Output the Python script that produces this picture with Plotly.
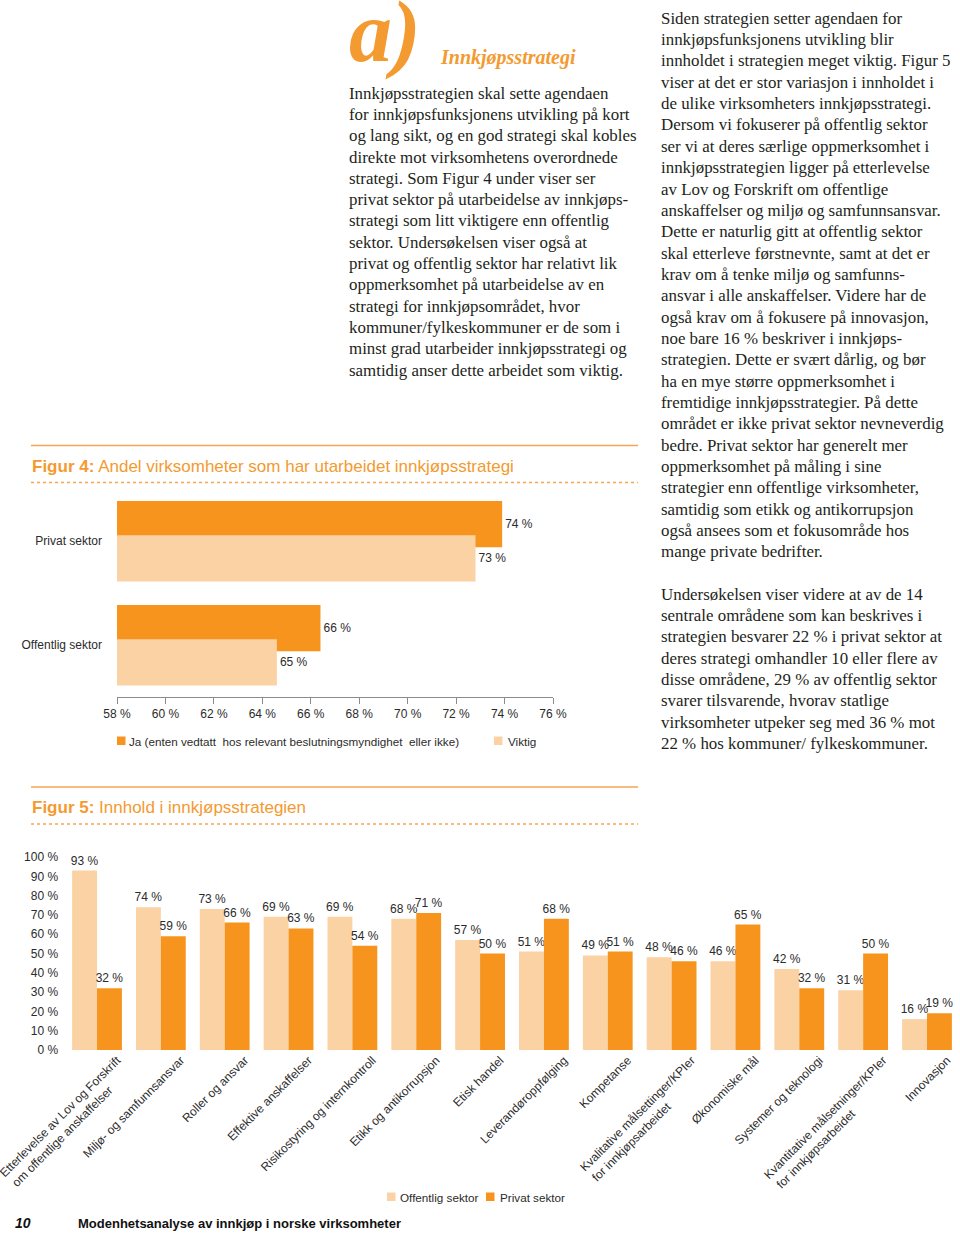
import plotly.graph_objects as go

W, H = 960, 1233


def fx(x):
    return x / W


def fy(y):
    return 1 - y / H


ORANGE = "#F7941E"
LIGHT = "#FBD2A4"
ACCENT = "#F39A30"
BODY = "#231F20"
CHART = "#2B2B2B"
SERIF = "Liberation Serif"
SANS = "Liberation Sans"
NB = "\u00a0"

# ---------------- Figure 4 data ----------------
fig4_sectors = ["Offentlig sektor", "Privat sektor"]
fig4_ja = [66.4, 73.9]
fig4_viktig = [64.6, 72.8]
fig4_tickvals = [58, 60, 62, 64, 66, 68, 70, 72, 74, 76]
fig4_ticktext = ["58 %", "60 %", "62 %", "64 %", "66 %", "68 %", "70 %", "72 %", "74 %", "76 %"]
fig4_legend = ["Ja (enten vedtatt  hos relevant beslutningsmyndighet  eller ikke)", "Viktig"]

# ---------------- Figure 5 data ----------------
fig5_categories = [
    "Etterlevelse av Lov og Forskrift om offentlige anskaffelser",
    "Miljø- og samfunnsansvar",
    "Roller og ansvar",
    "Effektive anskaffelser",
    "Risikostyring og internkontroll",
    "Etikk og antikorrupsjon",
    "Etisk handel",
    "Leverandøroppfølging",
    "Kompetanse",
    "Kvalitative målsettinger/KPIer for innkjøpsarbeidet",
    "Økonomiske mål",
    "Systemer og teknologi",
    "Kvantitative målsetninger/KPIer for innkjøpsarbeidet",
    "Innovasjon",
]
# second lines are padded with no-break spaces so both lines start together (left-aligned, as in the source)
fig5_ticklabels = [
    "Etterlevelse av Lov og Forskrift<br>om offentlige anskaffelser" + NB * 8,
    "Miljø- og samfunnsansvar",
    "Roller og ansvar",
    "Effektive anskaffelser",
    "Risikostyring og internkontroll",
    "Etikk og antikorrupsjon",
    "Etisk handel",
    "Leverandøroppfølging",
    "Kompetanse",
    "Kvalitative målsettinger/KPIer<br>for innkjøpsarbeidet" + NB * 15,
    "Økonomiske mål",
    "Systemer og teknologi",
    "Kvantitative målsetninger/KPIer<br>for innkjøpsarbeidet" + NB * 18,
    "Innovasjon",
]
fig5_offentlig = [93, 74, 73, 69, 69, 68, 57, 51, 49, 48, 46, 42, 31, 16]
fig5_privat = [32, 59, 66, 63, 54, 71, 50, 68, 51, 46, 65, 32, 50, 19]
fig5_ytickvals = [0, 10, 20, 30, 40, 50, 60, 70, 80, 90, 100]
fig5_yticktext = ["0 %", "10 %", "20 %", "30 %", "40 %", "50 %", "60 %", "70 %", "80 %", "90 %", "100 %"]
fig5_legend = ["Offentlig sektor", "Privat sektor"]

# ---------------- Page text ----------------
header_mark = "a)"
header_title = "Innkjøpsstrategi"
fig4_title = "<b>Figur 4:</b> Andel virksomheter som har utarbeidet innkjøpsstrategi"
fig5_title = "<b>Figur 5:</b> Innhold i innkjøpsstrategien"
footer_page = "10"
footer_title = "Modenhetsanalyse av innkjøp i norske virksomheter"

middle_lines = [
    "Innkjøpsstrategien skal sette agendaen",
    "for innkjøpsfunksjonens utvikling på kort",
    "og lang sikt, og en god strategi skal kobles",
    "direkte mot virksomhetens overordnede",
    "strategi. Som Figur 4 under viser ser",
    "privat sektor på utarbeidelse av innkjøps-",
    "strategi som litt viktigere enn offentlig",
    "sektor. Undersøkelsen viser også at",
    "privat og offentlig sektor har relativt lik",
    "oppmerksomhet på utarbeidelse av en",
    "strategi for innkjøpsområdet, hvor",
    "kommuner/fylkeskommuner er de som i",
    "minst grad utarbeider innkjøpsstrategi og",
    "samtidig anser dette arbeidet som viktig.",
]

right_lines_1 = [
    "Siden strategien setter agendaen for",
    "innkjøpsfunksjonens utvikling blir",
    "innholdet i strategien meget viktig. Figur 5",
    "viser at det er stor variasjon i innholdet i",
    "de ulike virksomheters innkjøpsstrategi.",
    "Dersom vi fokuserer på offentlig sektor",
    "ser vi at deres særlige oppmerksomhet i",
    "innkjøpsstrategien ligger på etterlevelse",
    "av Lov og Forskrift om offentlige",
    "anskaffelser og miljø og samfunnsansvar.",
    "Dette er naturlig gitt at offentlig sektor",
    "skal etterleve førstnevnte, samt at det er",
    "krav om å tenke miljø og samfunns-",
    "ansvar i alle anskaffelser. Videre har de",
    "også krav om å fokusere på innovasjon,",
    "noe bare 16 % beskriver i innkjøps-",
    "strategien. Dette er svært dårlig, og bør",
    "ha en mye større oppmerksomhet i",
    "fremtidige innkjøpsstrategier. På dette",
    "området er ikke privat sektor nevneverdig",
    "bedre. Privat sektor har generelt mer",
    "oppmerksomhet på måling i sine",
    "strategier enn offentlige virksomheter,",
    "samtidig som etikk og antikorrupsjon",
    "også ansees som et fokusområde hos",
    "mange private bedrifter.",
]

right_lines_2 = [
    "Undersøkelsen viser videre at av de 14",
    "sentrale områdene som kan beskrives i",
    "strategien besvarer 22 % i privat sektor at",
    "deres strategi omhandler 10 eller flere av",
    "disse områdene, 29 % av offentlig sektor",
    "svarer tilsvarende, hvorav statlige",
    "virksomheter utpeker seg med 36 % mot",
    "22 % hos kommuner/ fylkeskommuner.",
]

fig = go.Figure()

# ---------------- Figure 4 bars ----------------
fig.add_trace(go.Bar(
    y=fig4_sectors, x=fig4_ja, orientation="h", name=fig4_legend[0],
    marker=dict(color=ORANGE, line=dict(width=0)),
    offset=-0.06, width=0.445,
    texttemplate="%{x:.0f} %", textposition="outside",
    textfont=dict(family=SANS, size=12, color=CHART),
    constraintext="none", xaxis="x", yaxis="y", showlegend=False,
))
fig.add_trace(go.Bar(
    y=fig4_sectors, x=fig4_viktig, orientation="h", name=fig4_legend[1],
    marker=dict(color=LIGHT, line=dict(width=0)),
    offset=-0.39, width=0.445,
    texttemplate="%{x:.0f} %", textposition="outside",
    textfont=dict(family=SANS, size=12, color=CHART),
    constraintext="none", xaxis="x", yaxis="y", showlegend=False,
))

# ---------------- Figure 5 bars ----------------
fig.add_trace(go.Bar(
    x=fig5_categories, y=fig5_offentlig, name=fig5_legend[0],
    marker=dict(color=LIGHT, line=dict(width=0)),
    offset=-0.39, width=0.39,
    texttemplate="%{y:.0f} %", textposition="outside",
    textfont=dict(family=SANS, size=12, color=CHART),
    constraintext="none", cliponaxis=False,
    xaxis="x2", yaxis="y2", showlegend=False,
))
fig.add_trace(go.Bar(
    x=fig5_categories, y=fig5_privat, name=fig5_legend[1],
    marker=dict(color=ORANGE, line=dict(width=0)),
    offset=0.0, width=0.39,
    texttemplate="%{y:.0f} %", textposition="outside",
    textfont=dict(family=SANS, size=12, color=CHART),
    constraintext="none", cliponaxis=False,
    xaxis="x2", yaxis="y2", showlegend=False,
))

annotations = []


def txt(x, y, s, size, color, family, weight="normal", style="normal", xanchor="left"):
    annotations.append(dict(
        x=fx(x), y=fy(y), xref="paper", yref="paper", xanchor=xanchor, yanchor="middle",
        text=s, showarrow=False, align="left",
        font=dict(size=size, color=color, family=family, weight=weight, style=style),
    ))


# header
txt(347, 32, header_mark, 86, ACCENT, SERIF, weight="bold", style="italic")
txt(438, 57, header_title, 20, ACCENT, SERIF, weight="bold", style="italic")

# body columns
BODY_SIZE = 16.9
for i, s in enumerate(middle_lines):
    txt(347, 93.2 + 21.3 * i, s, BODY_SIZE, BODY, SERIF)
for i, s in enumerate(right_lines_1):
    txt(659, 18.2 + 21.35 * i, s, BODY_SIZE, BODY, SERIF)
for i, s in enumerate(right_lines_2):
    txt(659, 594.2 + 21.35 * i, s, BODY_SIZE, BODY, SERIF)

# figure titles
txt(30, 466, fig4_title, 17, ACCENT, SANS)
txt(30, 807, fig5_title, 17, ACCENT, SANS)

# legends (text)
txt(127, 741, fig4_legend[0], 11.7, CHART, SANS)
txt(506, 741, fig4_legend[1], 11.7, CHART, SANS)
txt(398, 1197, fig5_legend[0], 11.7, CHART, SANS)
txt(498, 1197, fig5_legend[1], 11.7, CHART, SANS)

# footer
txt(13, 1223, footer_page, 14, "#111111", SANS, weight="bold", style="italic")
txt(76, 1223, footer_title, 13, "#111111", SANS, weight="bold")

shapes = []


def hline(x0, x1, y, dash="solid", width=1.5):
    shapes.append(dict(type="line", xref="paper", yref="paper",
                       x0=fx(x0), x1=fx(x1), y0=fy(y), y1=fy(y),
                       line=dict(color="#F5A553", width=width, dash=dash)))


def square(x0, y0, size, color):
    shapes.append(dict(type="rect", xref="paper", yref="paper",
                       x0=fx(x0), x1=fx(x0 + size), y0=fy(y0), y1=fy(y0 + size),
                       fillcolor=color, line=dict(width=0)))


hline(31, 638, 445.5)
hline(31, 638, 482.5, dash="dot", width=1.3)
hline(31, 638, 787)
hline(31, 638, 824, dash="dot", width=1.3)

square(117, 736.5, 8.5, ORANGE)
square(494, 736.5, 8.5, LIGHT)
square(387, 1192.5, 8.5, LIGHT)
square(486, 1192.5, 8.5, ORANGE)

fig.update_layout(
    template="none",
    width=W, height=H,
    margin=dict(l=0, r=0, t=0, b=0),
    paper_bgcolor="white", plot_bgcolor="rgba(0,0,0,0)",
    showlegend=False,
    barmode="group",
    font=dict(family=SANS, size=12, color=CHART),
    annotations=annotations,
    shapes=shapes,
    xaxis=dict(
        domain=[fx(117), fx(553)], range=[58, 76], anchor="y",
        tickvals=fig4_tickvals, ticktext=fig4_ticktext,
        ticks="outside", ticklen=6, tickcolor="#8C8C8C", tickwidth=1,
        showline=True, linecolor="#8C8C8C", linewidth=1,
        showgrid=False, zeroline=False, automargin=False, fixedrange=True,
        tickfont=dict(family=SANS, size=12, color=CHART),
    ),
    yaxis=dict(
        domain=[fy(697), fy(489)], type="category",
        categoryorder="array", categoryarray=fig4_sectors,
        range=[-0.5, 1.5], anchor="x",
        showgrid=False, zeroline=False, showline=False, ticks="",
        ticklabelstandoff=14, automargin=False, fixedrange=True,
        tickfont=dict(family=SANS, size=12, color=CHART),
    ),
    xaxis2=dict(
        domain=[fx(65.1), fx(958.9)], type="category",
        categoryorder="array", categoryarray=fig5_categories,
        tickvals=fig5_categories, ticktext=fig5_ticklabels,
        range=[-0.5, 13.5], anchor="y2", tickangle=-45,
        ticklabelshift=20,
        showgrid=False, zeroline=False, showline=False, ticks="",
        automargin=False, fixedrange=True,
        tickfont=dict(family=SANS, size=12, color=CHART),
    ),
    yaxis2=dict(
        domain=[fy(1050), fy(857)], range=[0, 100], anchor="x2",
        tickvals=fig5_ytickvals, ticktext=fig5_yticktext,
        showgrid=False, zeroline=False, showline=False, ticks="",
        ticklabelstandoff=6, automargin=False, fixedrange=True,
        tickfont=dict(family=SANS, size=12, color=CHART),
    ),
)

fig.write_html(
    "out.html",
    config={"displayModeBar": False},
    post_script="document.body.style.margin='0px';document.body.style.overflow='hidden';",
)
